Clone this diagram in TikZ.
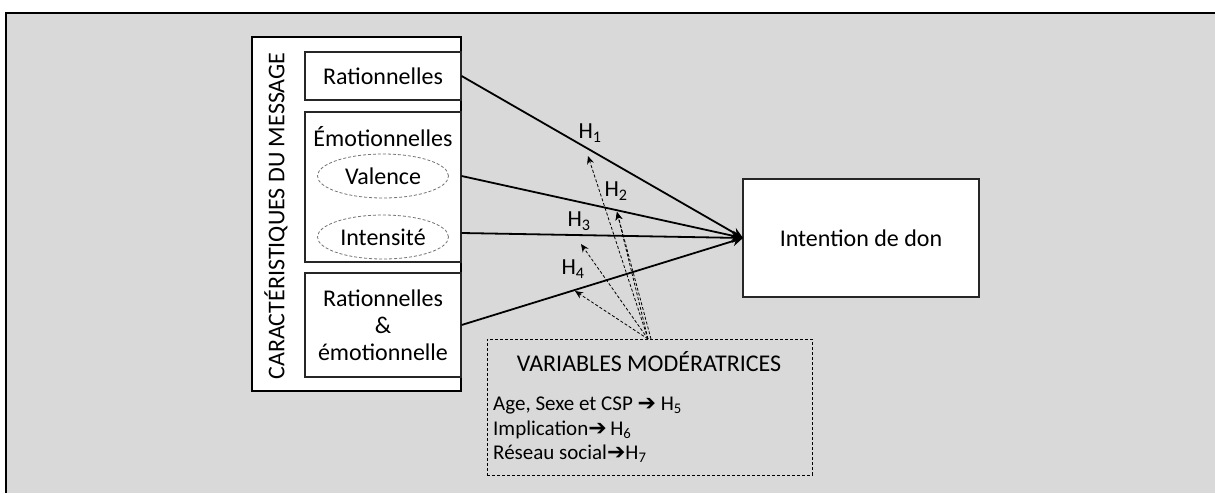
\documentclass[tikz,border=0pt]{standalone}
\usepackage{fontspec}
\setmainfont{Carlito}
\newfontfamily\symfont{DejaVu Sans}
\usetikzlibrary{arrows.meta,shapes.geometric}
\definecolor{bggray}{HTML}{D9D9D9}
\newcommand{\Hsub}[1]{H\textsubscript{#1}}
\newcommand{\bigarrow}{{\symfont\bfseries\fontsize{22}{24}\selectfont ➔}}
\tikzset{
  big/.style={font=\fontsize{24}{29}\selectfont},
  small/.style={font=\fontsize{21}{25}\selectfont},
  innerbox/.style={draw=black!85, line width=1.2pt, fill=white, inner sep=0pt, align=center, big, minimum width=156pt},
  oval/.style={ellipse, draw=black!55, dash pattern=on 3pt off 2pt, line width=0.8pt, minimum width=131pt, minimum height=44pt, inner sep=0pt, big},
  mainarrow/.style={line width=1.8pt, -{Stealth[length=11pt,width=10pt]}},
  modarrow/.style={line width=0.8pt, dash pattern=on 3pt off 2pt, -{Stealth[length=8pt,width=7pt]}},
  hlabel/.style={font=\fontsize{23}{27}\selectfont, inner sep=0pt}
}
\begin{document}
\begin{tikzpicture}[x=1pt,y=-1pt]
\useasboundingbox (0,0) rectangle (1215,493);
\fill[bggray] (6,13) rectangle (1215,493);
\draw[line width=2pt] (6,493) -- (6,13) -- (1215,13);

% outer box
\node[draw=black, line width=2.5pt, fill=white, minimum width=209pt, minimum height=354pt, inner sep=0pt] (outer) at (356.5,214) {};
\node[rotate=90, big, inner sep=0pt] (carac) at (276,216) {CARACTÉRISTIQUES DU MESSAGE};

\node[innerbox, minimum height=48pt] (rat) at (383,76) {Rationnelles};
\node[innerbox, minimum height=150pt] (emo) at (383,187) {};
\node[big, inner sep=0pt] (emotxt) at (383,137) {Émotionnelles};
\node[oval] (val) at (383,176) {Valence};
\node[oval] (int) at (383,237) {Intensité};
\node[innerbox, minimum height=104pt] (re) at (383,325) {Rationnelles\\[-2pt]\&\\[-2pt]émotionnelle};

\node[draw=black!85, line width=1.2pt, fill=white, minimum width=236pt, minimum height=118pt, inner sep=0pt, big] (don) at (861,238) {Intention de don};

\node[draw=black, line width=0.8pt, dash pattern=on 3pt off 2pt, minimum width=325pt, minimum height=136pt, inner sep=0pt] (mod) at (649.5,407) {};
\node[big, inner sep=0pt] (modtitle) at (649,362) {VARIABLES MODÉRATRICES};
\node[small, anchor=west, inner sep=0pt] (m5) at (493,405) {Age, Sexe et CSP \bigarrow{} \Hsub{5}};
\node[small, anchor=west, inner sep=0pt] (m6) at (493,430) {Implication\bigarrow\,\Hsub{6}};
\node[small, anchor=west, inner sep=0pt] (m7) at (493,454) {Réseau social\bigarrow\Hsub{7}};

% main arrows
\coordinate (tip) at (743,238);
\draw[mainarrow] (rat.east) -- (tip);
\draw[mainarrow] (val -| emo.east) -- (tip);
\draw[mainarrow] (int -| emo.east) ++(0,-4) -- (tip);
\draw[mainarrow] (re.east) -- (tip);

% moderator arrows
\coordinate (src) at (648,339);
\coordinate (t1) at (588,156);
\coordinate (t2) at (617,212);
\coordinate (t3) at (581,244);
\coordinate (t4) at (575,291);
\draw[modarrow] (src) -- (t1);
\draw[modarrow] (src) -- (t2);
\draw[modarrow] ([xshift=3pt]src) -- (t2);
\draw[modarrow] (src) -- (t3);
\draw[modarrow] (src) -- (t4);

\node[hlabel] (h1) at (590,133) {\Hsub{1}};
\node[hlabel] (h2) at (616,191) {\Hsub{2}};
\node[hlabel] (h3) at (579,221) {\Hsub{3}};
\node[hlabel] (h4) at (573,269) {\Hsub{4}};
\end{tikzpicture}
\end{document}
